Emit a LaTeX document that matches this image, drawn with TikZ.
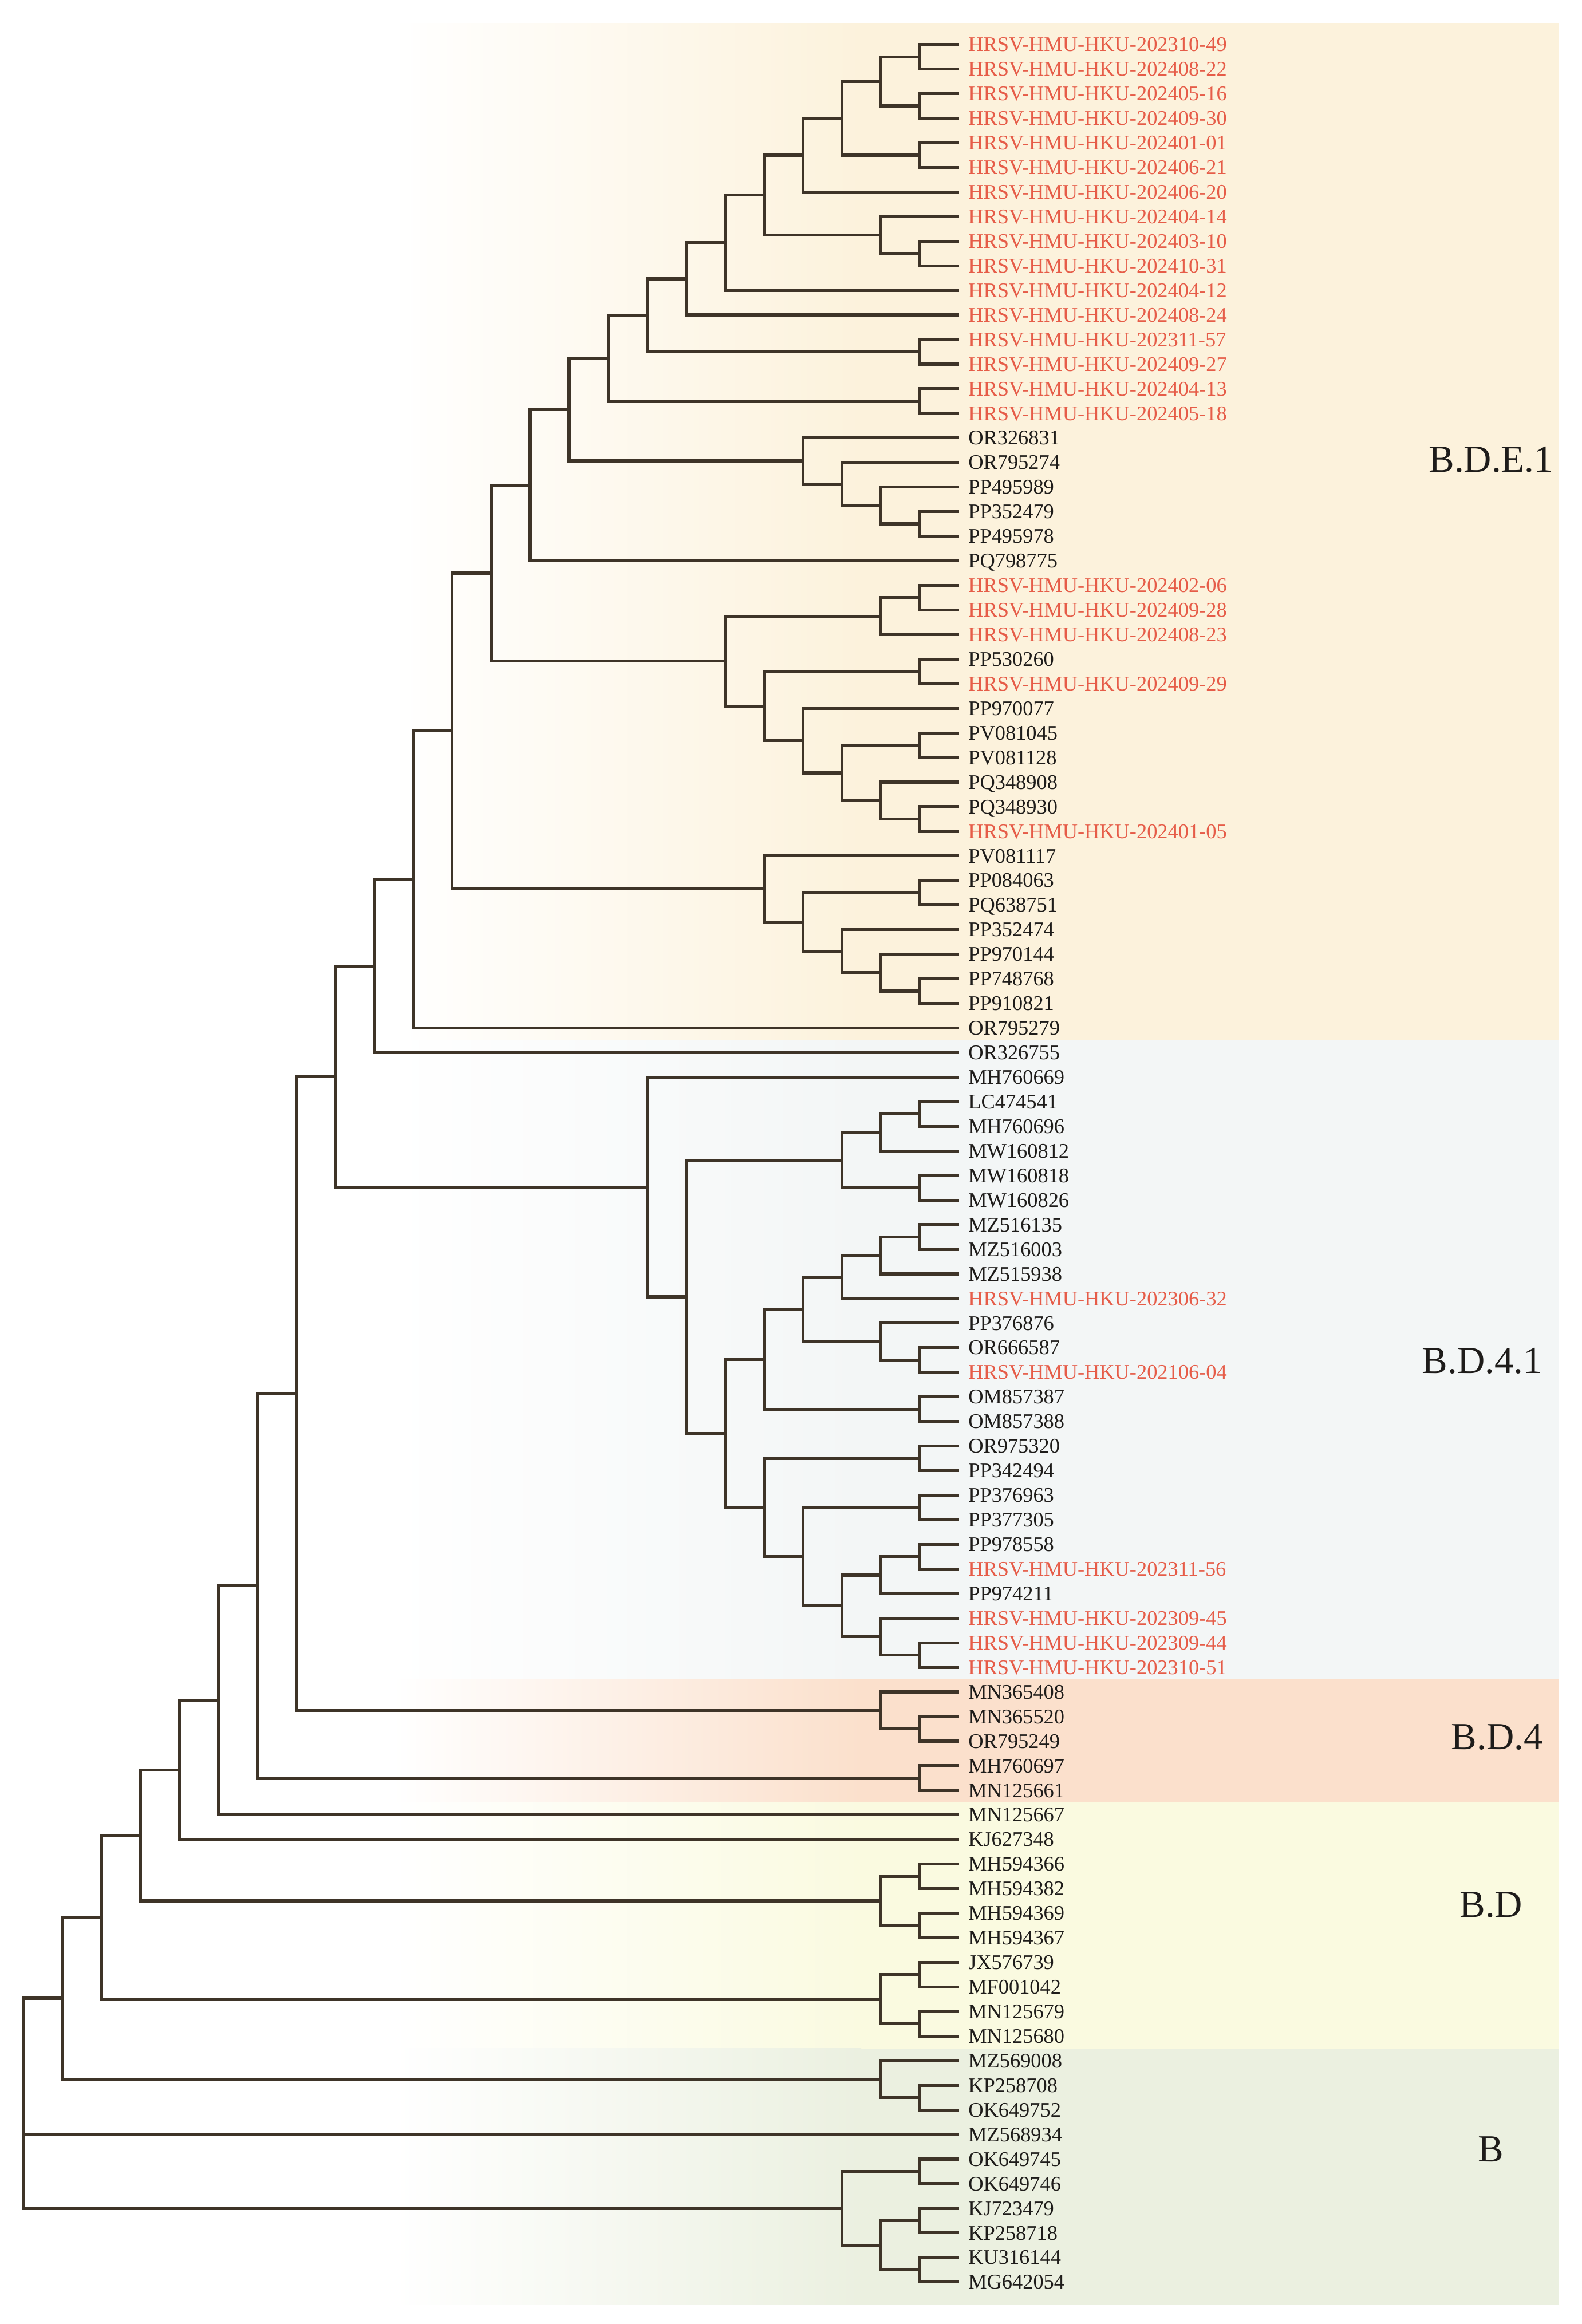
\documentclass[tikz,border=0pt]{standalone}
\usepackage{fontspec}
\setmainfont{Liberation Serif}
\definecolor{brn}{RGB}{62,52,40}
\definecolor{hkred}{RGB}{230,92,72}
\definecolor{txt}{RGB}{30,28,26}
\definecolor{cE}{RGB}{252,242,220}
\definecolor{cF}{RGB}{243,246,246}
\definecolor{cG}{RGB}{251,224,204}
\definecolor{cH}{RGB}{250,250,224}
\definecolor{cI}{RGB}{235,240,224}
\tikzset{
  br/.style={draw=brn, line width=1.15pt},
  leaf/.style={anchor=west, inner xsep=0.12cm, inner ysep=0pt, text height=5.35pt, text depth=0pt, font=\fontsize{8}{8}\selectfont, text=txt},
  hk/.style={leaf, text=hkred},
  clade/.style={inner sep=0pt, text height=9.7pt, text depth=0pt, font=\fontsize{14.7}{15}\selectfont, text=txt}
}
\newcommand{\lf}[3]{\node[#3] (L#1) at (647,{ly(#1)}) {#2};}
\newcommand{\nd}[3]{\coordinate (#1) at ({hx(#2)},{ly(#3)});}
\newcommand{\jn}[3]{\draw[br] (#2) -| (#1) |- (#3);}
\newcommand{\band}[3]{\shade[left color=white, right color=#1] (265,#2) rectangle (581,#3);
  \fill[#1] (580,#2) rectangle (1052,#3);}
\begin{document}
\begin{tikzpicture}[x=0.02cm, y=-0.02cm,
  declare function={ly(\i)=13.41+16.59*\i; hx(\h)=647-26.3*\h;}]
\useasboundingbox (0,0) rectangle (1067,1568);
\fill[white] (0,0) rectangle (1067,1568);
% background bands
\band{cE}{16}{701.9}
\band{cF}{701.9}{1133.2}
\band{cG}{1133.2}{1216.2}
\band{cH}{1216.2}{1382.1}
\band{cI}{1382.1}{1555}
% clade labels
\node[clade] (kE) at (1006,310) {B.D.E.1};
\node[clade] (kF) at (1000,918) {B.D.4.1};
\node[clade] (kG) at (1010,1172) {B.D.4};
\node[clade] (kH) at (1006,1285) {B.D};
\node[clade] (kI) at (1006,1450) {B};
% leaves
\lf{1}{HRSV-HMU-HKU-202310-49}{hk}
\lf{2}{HRSV-HMU-HKU-202408-22}{hk}
\lf{3}{HRSV-HMU-HKU-202405-16}{hk}
\lf{4}{HRSV-HMU-HKU-202409-30}{hk}
\lf{5}{HRSV-HMU-HKU-202401-01}{hk}
\lf{6}{HRSV-HMU-HKU-202406-21}{hk}
\lf{7}{HRSV-HMU-HKU-202406-20}{hk}
\lf{8}{HRSV-HMU-HKU-202404-14}{hk}
\lf{9}{HRSV-HMU-HKU-202403-10}{hk}
\lf{10}{HRSV-HMU-HKU-202410-31}{hk}
\lf{11}{HRSV-HMU-HKU-202404-12}{hk}
\lf{12}{HRSV-HMU-HKU-202408-24}{hk}
\lf{13}{HRSV-HMU-HKU-202311-57}{hk}
\lf{14}{HRSV-HMU-HKU-202409-27}{hk}
\lf{15}{HRSV-HMU-HKU-202404-13}{hk}
\lf{16}{HRSV-HMU-HKU-202405-18}{hk}
\lf{17}{OR326831}{leaf}
\lf{18}{OR795274}{leaf}
\lf{19}{PP495989}{leaf}
\lf{20}{PP352479}{leaf}
\lf{21}{PP495978}{leaf}
\lf{22}{PQ798775}{leaf}
\lf{23}{HRSV-HMU-HKU-202402-06}{hk}
\lf{24}{HRSV-HMU-HKU-202409-28}{hk}
\lf{25}{HRSV-HMU-HKU-202408-23}{hk}
\lf{26}{PP530260}{leaf}
\lf{27}{HRSV-HMU-HKU-202409-29}{hk}
\lf{28}{PP970077}{leaf}
\lf{29}{PV081045}{leaf}
\lf{30}{PV081128}{leaf}
\lf{31}{PQ348908}{leaf}
\lf{32}{PQ348930}{leaf}
\lf{33}{HRSV-HMU-HKU-202401-05}{hk}
\lf{34}{PV081117}{leaf}
\lf{35}{PP084063}{leaf}
\lf{36}{PQ638751}{leaf}
\lf{37}{PP352474}{leaf}
\lf{38}{PP970144}{leaf}
\lf{39}{PP748768}{leaf}
\lf{40}{PP910821}{leaf}
\lf{41}{OR795279}{leaf}
\lf{42}{OR326755}{leaf}
\lf{43}{MH760669}{leaf}
\lf{44}{LC474541}{leaf}
\lf{45}{MH760696}{leaf}
\lf{46}{MW160812}{leaf}
\lf{47}{MW160818}{leaf}
\lf{48}{MW160826}{leaf}
\lf{49}{MZ516135}{leaf}
\lf{50}{MZ516003}{leaf}
\lf{51}{MZ515938}{leaf}
\lf{52}{HRSV-HMU-HKU-202306-32}{hk}
\lf{53}{PP376876}{leaf}
\lf{54}{OR666587}{leaf}
\lf{55}{HRSV-HMU-HKU-202106-04}{hk}
\lf{56}{OM857387}{leaf}
\lf{57}{OM857388}{leaf}
\lf{58}{OR975320}{leaf}
\lf{59}{PP342494}{leaf}
\lf{60}{PP376963}{leaf}
\lf{61}{PP377305}{leaf}
\lf{62}{PP978558}{leaf}
\lf{63}{HRSV-HMU-HKU-202311-56}{hk}
\lf{64}{PP974211}{leaf}
\lf{65}{HRSV-HMU-HKU-202309-45}{hk}
\lf{66}{HRSV-HMU-HKU-202309-44}{hk}
\lf{67}{HRSV-HMU-HKU-202310-51}{hk}
\lf{68}{MN365408}{leaf}
\lf{69}{MN365520}{leaf}
\lf{70}{OR795249}{leaf}
\lf{71}{MH760697}{leaf}
\lf{72}{MN125661}{leaf}
\lf{73}{MN125667}{leaf}
\lf{74}{KJ627348}{leaf}
\lf{75}{MH594366}{leaf}
\lf{76}{MH594382}{leaf}
\lf{77}{MH594369}{leaf}
\lf{78}{MH594367}{leaf}
\lf{79}{JX576739}{leaf}
\lf{80}{MF001042}{leaf}
\lf{81}{MN125679}{leaf}
\lf{82}{MN125680}{leaf}
\lf{83}{MZ569008}{leaf}
\lf{84}{KP258708}{leaf}
\lf{85}{OK649752}{leaf}
\lf{86}{MZ568934}{leaf}
\lf{87}{OK649745}{leaf}
\lf{88}{OK649746}{leaf}
\lf{89}{KJ723479}{leaf}
\lf{90}{KP258718}{leaf}
\lf{91}{KU316144}{leaf}
\lf{92}{MG642054}{leaf}
% internal nodes
\nd{a12}{1}{1.5}
\nd{a34}{1}{3.5}
\nd{nA}{2}{2.5}
\nd{a56}{1}{5.5}
\nd{nB}{3}{4}
\nd{nC}{4}{5.5}
\nd{a910}{1}{9.5}
\nd{nD}{2}{8.75}
\nd{nE}{5}{7.125}
\nd{nF}{6}{9.0625}
\nd{nG}{7}{10.53125}
\nd{a1314}{1}{13.5}
\nd{nH}{8}{12.015625}
\nd{a1516}{1}{15.5}
\nd{nI}{9}{13.7578125}
\nd{k2021}{1}{20.5}
\nd{k19}{2}{19.75}
\nd{k18}{3}{18.875}
\nd{nK}{4}{17.9375}
\nd{nJ}{10}{15.84765625}
\nd{nL}{11}{18.923828125}
\nd{b2324}{1}{23.5}
\nd{b25}{2}{24.25}
\nd{b2627}{1}{26.5}
\nd{b3233}{1}{32.5}
\nd{b31}{2}{31.75}
\nd{b2930}{1}{29.5}
\nd{b29}{3}{30.625}
\nd{b28}{4}{29.3125}
\nd{b26}{5}{27.90625}
\nd{nSb2}{6}{26.078125}
\nd{nM}{12}{22.5009765625}
\nd{c3940}{1}{39.5}
\nd{c38}{2}{38.75}
\nd{c37}{3}{37.875}
\nd{c3536}{1}{35.5}
\nd{c35}{4}{36.6875}
\nd{nSb3}{5}{35.34375}
\nd{nN}{13}{28.92236328}
\nd{nO}{14}{34.96118164}
\nd{nP}{15}{38.48059082}
\nd{d4445}{1}{44.5}
\nd{d46}{2}{45.25}
\nd{d4748}{1}{47.5}
\nd{nQa}{3}{46.375}
\nd{e4950}{1}{49.5}
\nd{e51}{2}{50.25}
\nd{nRa}{3}{51.125}
\nd{e5455}{1}{54.5}
\nd{nRb}{2}{53.75}
\nd{nRc}{4}{52.4375}
\nd{e5657}{1}{56.5}
\nd{nRd}{5}{54.46875}
\nd{f5859}{1}{58.5}
\nd{f6061}{1}{60.5}
\nd{f6263}{1}{62.5}
\nd{nTa}{2}{63.25}
\nd{f6667}{1}{66.5}
\nd{nTb}{2}{65.75}
\nd{nTc}{3}{64.5}
\nd{nTd}{4}{62.5}
\nd{nTe}{5}{60.5}
\nd{nRe}{6}{57.484375}
\nd{nRf}{7}{51.9296875}
\nd{nBDF}{8}{47.46484375}
\nd{nQ}{16}{42.97271729}
\nd{g6970}{1}{69.5}
\nd{nT}{2}{68.75}
\nd{nR}{17}{55.86135865}
\nd{g7172}{1}{71.5}
\nd{nS}{18}{63.68067932}
\nd{nU}{19}{68.34033966}
\nd{nV}{20}{71.17016983}
\nd{h7576}{1}{75.5}
\nd{h7778}{1}{77.5}
\nd{nBDa}{2}{76.5}
\nd{nW}{21}{73.83508492}
\nd{h7980}{1}{79.5}
\nd{h8182}{1}{81.5}
\nd{nBDb}{2}{80.5}
\nd{nX}{22}{77.16754246}
\nd{i8485}{1}{84.5}
\nd{nBc}{2}{83.75}
\nd{nY}{23}{80.45877123}
\nd{j8788}{1}{87.5}
\nd{j8990}{1}{89.5}
\nd{j9192}{1}{91.5}
\nd{j89}{2}{90.5}
\nd{nBd}{3}{89}
\nd{nZ}{24}{84.72938562}
% branches
\jn{a12}{L1.west}{L2.west}
\jn{a34}{L3.west}{L4.west}
\jn{nA}{a12}{a34}
\jn{a56}{L5.west}{L6.west}
\jn{nB}{nA}{a56}
\jn{nC}{nB}{L7.west}
\jn{a910}{L9.west}{L10.west}
\jn{nD}{L8.west}{a910}
\jn{nE}{nC}{nD}
\jn{nF}{nE}{L11.west}
\jn{nG}{nF}{L12.west}
\jn{a1314}{L13.west}{L14.west}
\jn{nH}{nG}{a1314}
\jn{a1516}{L15.west}{L16.west}
\jn{nI}{nH}{a1516}
\jn{k2021}{L20.west}{L21.west}
\jn{k19}{L19.west}{k2021}
\jn{k18}{L18.west}{k19}
\jn{nK}{L17.west}{k18}
\jn{nJ}{nI}{nK}
\jn{nL}{nJ}{L22.west}
\jn{b2324}{L23.west}{L24.west}
\jn{b25}{b2324}{L25.west}
\jn{b2627}{L26.west}{L27.west}
\jn{b3233}{L32.west}{L33.west}
\jn{b31}{L31.west}{b3233}
\jn{b2930}{L29.west}{L30.west}
\jn{b29}{b2930}{b31}
\jn{b28}{L28.west}{b29}
\jn{b26}{b2627}{b28}
\jn{nSb2}{b25}{b26}
\jn{nM}{nL}{nSb2}
\jn{c3940}{L39.west}{L40.west}
\jn{c38}{L38.west}{c3940}
\jn{c37}{L37.west}{c38}
\jn{c3536}{L35.west}{L36.west}
\jn{c35}{c3536}{c37}
\jn{nSb3}{L34.west}{c35}
\jn{nN}{nM}{nSb3}
\jn{nO}{nN}{L41.west}
\jn{nP}{nO}{L42.west}
\jn{d4445}{L44.west}{L45.west}
\jn{d46}{d4445}{L46.west}
\jn{d4748}{L47.west}{L48.west}
\jn{nQa}{d46}{d4748}
\jn{e4950}{L49.west}{L50.west}
\jn{e51}{e4950}{L51.west}
\jn{nRa}{e51}{L52.west}
\jn{e5455}{L54.west}{L55.west}
\jn{nRb}{L53.west}{e5455}
\jn{nRc}{nRa}{nRb}
\jn{e5657}{L56.west}{L57.west}
\jn{nRd}{nRc}{e5657}
\jn{f5859}{L58.west}{L59.west}
\jn{f6061}{L60.west}{L61.west}
\jn{f6263}{L62.west}{L63.west}
\jn{nTa}{f6263}{L64.west}
\jn{f6667}{L66.west}{L67.west}
\jn{nTb}{L65.west}{f6667}
\jn{nTc}{nTa}{nTb}
\jn{nTd}{f6061}{nTc}
\jn{nTe}{f5859}{nTd}
\jn{nRe}{nRd}{nTe}
\jn{nRf}{nQa}{nRe}
\jn{nBDF}{L43.west}{nRf}
\jn{nQ}{nP}{nBDF}
\jn{g6970}{L69.west}{L70.west}
\jn{nT}{L68.west}{g6970}
\jn{nR}{nQ}{nT}
\jn{g7172}{L71.west}{L72.west}
\jn{nS}{nR}{g7172}
\jn{nU}{nS}{L73.west}
\jn{nV}{nU}{L74.west}
\jn{h7576}{L75.west}{L76.west}
\jn{h7778}{L77.west}{L78.west}
\jn{nBDa}{h7576}{h7778}
\jn{nW}{nV}{nBDa}
\jn{h7980}{L79.west}{L80.west}
\jn{h8182}{L81.west}{L82.west}
\jn{nBDb}{h7980}{h8182}
\jn{nX}{nW}{nBDb}
\jn{i8485}{L84.west}{L85.west}
\jn{nBc}{L83.west}{i8485}
\jn{nY}{nX}{nBc}
\jn{j8788}{L87.west}{L88.west}
\jn{j8990}{L89.west}{L90.west}
\jn{j9192}{L91.west}{L92.west}
\jn{j89}{j8990}{j9192}
\jn{nBd}{j8788}{j89}
\jn{nZ}{nY}{nBd}
\draw[br] (nZ) |- (L86.west);
\end{tikzpicture}
\end{document}
